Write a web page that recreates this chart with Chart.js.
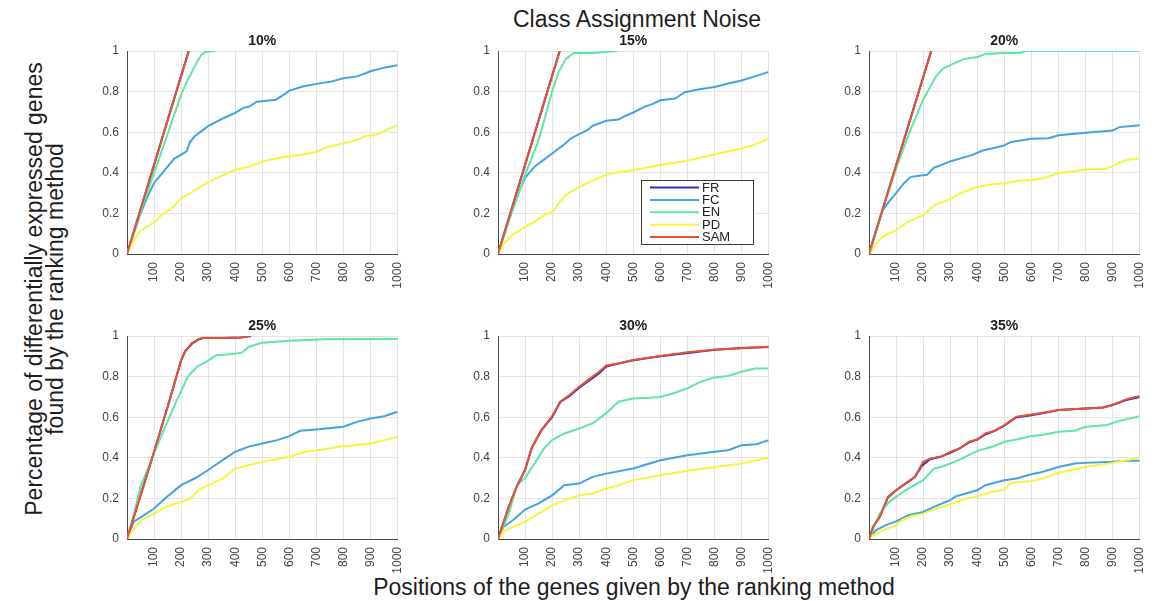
<!DOCTYPE html>
<html>
<head>
<meta charset="utf-8">
<script src="https://cdn.jsdelivr.net/npm/chart.js@4.4.1/dist/chart.umd.min.js"></script>
<style>
  html, body { margin: 0; padding: 0; background: #fff; }
  #fig { position: relative; width: 1163px; height: 601px; overflow: hidden;
         font-family: 'Liberation Sans', Arial, Helvetica, sans-serif; color: #1e1e1e; }
  #fig canvas { position: absolute; }
  .lbl { position: absolute; white-space: nowrap; font-size: 23px; line-height: 23px; }
  #suptitle { left: 637px; top: 8px; transform: translateX(-50%); }
  #xlab { left: 634px; top: 576px; transform: translateX(-50%); }
  #ylab { left: 45px; top: 289px; text-align: center; line-height: 21px;
          transform: translate(-50%, -50%) rotate(-90deg); }
</style>
</head>
<body>
<div id="fig">
  <div class="lbl" id="suptitle">Class Assignment Noise</div>
  <div class="lbl" id="ylab">Percentage of differentially expressed genes<br>found by the ranking method</div>
  <div class="lbl" id="xlab">Positions of the genes given by the ranking method</div>
</div>
<script>
// Axis ticks
const xTickValues = [100, 200, 300, 400, 500, 600, 700, 800, 900, 1000];
const yTickValues = [0, 0.2, 0.4, 0.6, 0.8, 1];
const yTickLabels = ['0', '0.2', '0.4', '0.6', '0.8', '1'];

// Ranking methods
const methods = ['FR', 'FC', 'EN', 'PD', 'SAM'];
const noiseLevels = ['10%', '15%', '20%', '25%', '30%', '35%'];

// Fraction of DE genes found vs. rank position: [rank, fraction]
// 10 % noise
const FR10  = [[0,0],[228,1]];
const FC10  = [[0,0],[25,0.1],[50,0.2],[75,0.28],[100,0.35],[125,0.39],[150,0.43],[175,0.47],[200,0.49],[220,0.505],[232,0.55],[250,0.58],[300,0.63],[350,0.665],[400,0.695],[430,0.72],[450,0.725],[480,0.75],[550,0.76],[580,0.785],[600,0.805],[650,0.825],[700,0.838],[750,0.848],[800,0.866],[850,0.875],[900,0.9],[950,0.918],[1000,0.93]];
const EN10  = [[0,0],[50,0.21],[100,0.4],[150,0.59],[200,0.785],[225,0.86],[245,0.91],[260,0.95],[275,0.98],[290,0.995],[327,1]];
const PD10  = [[0,0],[25,0.07],[50,0.115],[75,0.135],[100,0.155],[130,0.195],[170,0.23],[195,0.27],[240,0.305],[300,0.355],[350,0.385],[400,0.415],[450,0.43],[500,0.455],[550,0.47],[600,0.482],[650,0.49],[700,0.503],[735,0.525],[800,0.545],[845,0.56],[880,0.58],[925,0.59],[960,0.61],[1000,0.635]];
const SAM10 = [[0,0],[228,1]];

// 15 % noise
const FR15  = [[0,0],[228,1]];
const FC15  = [[0,0],[25,0.11],[50,0.21],[75,0.3],[100,0.375],[135,0.43],[170,0.465],[200,0.495],[240,0.535],[270,0.57],[300,0.59],[330,0.61],[350,0.632],[400,0.656],[445,0.662],[470,0.68],[500,0.697],[540,0.725],[570,0.738],[600,0.757],[655,0.766],[690,0.797],[740,0.81],[800,0.823],[850,0.84],[900,0.855],[950,0.875],[1000,0.897]];
const EN15  = [[0,0],[50,0.2],[100,0.39],[150,0.56],[200,0.8],[225,0.9],[250,0.96],[280,0.99],[350,0.99],[400,0.995],[440,1]];
const PD15  = [[0,0],[20,0.05],[50,0.09],[100,0.135],[135,0.16],[170,0.19],[200,0.205],[230,0.26],[255,0.295],[300,0.33],[350,0.362],[400,0.39],[445,0.404],[500,0.413],[550,0.425],[600,0.438],[650,0.45],[700,0.46],[750,0.475],[800,0.49],[850,0.505],[900,0.52],[950,0.54],[1000,0.569]];
const SAM15 = [[0,0],[228,1]];

// 20 % noise
const FR20  = [[0,0],[230,1]];
const FC20  = [[0,0],[25,0.11],[50,0.215],[75,0.26],[100,0.3],[130,0.35],[155,0.38],[200,0.388],[215,0.39],[240,0.425],[270,0.44],[300,0.456],[335,0.47],[380,0.487],[420,0.51],[470,0.525],[500,0.535],[525,0.552],[600,0.568],[665,0.57],[700,0.585],[800,0.597],[900,0.608],[925,0.625],[1000,0.634]];
const EN20  = [[0,0],[50,0.22],[100,0.42],[150,0.6],[200,0.76],[225,0.82],[250,0.88],[275,0.915],[300,0.93],[350,0.96],[400,0.97],[430,0.985],[500,0.99],[560,0.99],[580,1],[1000,1]];
const PD20  = [[0,0],[25,0.05],[50,0.085],[100,0.118],[145,0.16],[200,0.19],[240,0.24],[300,0.27],[335,0.298],[400,0.33],[455,0.344],[500,0.348],[545,0.36],[600,0.364],[640,0.372],[700,0.398],[800,0.416],[880,0.421],[925,0.45],[960,0.465],[1000,0.47]];
const SAM20 = [[0,0],[230,1]];

// 25 % noise
const FR25  = [[0,0],[50,0.215],[100,0.43],[150,0.65],[200,0.88],[215,0.925],[240,0.962],[265,0.983],[280,0.99],[350,0.99],[420,0.993],[458,1]];
const FC25  = [[0,0],[25,0.085],[55,0.11],[100,0.15],[140,0.2],[200,0.265],[250,0.298],[300,0.34],[355,0.39],[400,0.43],[450,0.455],[500,0.47],[555,0.487],[600,0.507],[640,0.533],[700,0.54],[800,0.553],[850,0.577],[900,0.594],[950,0.605],[1000,0.627]];
const EN25  = [[0,0],[25,0.12],[50,0.26],[95,0.405],[140,0.55],[190,0.7],[225,0.8],[260,0.85],[295,0.875],[330,0.905],[380,0.91],[425,0.918],[450,0.947],[500,0.967],[600,0.977],[730,0.984],[1000,0.985]];
const PD25  = [[0,0],[25,0.05],[50,0.09],[100,0.125],[140,0.155],[200,0.183],[235,0.2],[270,0.248],[300,0.265],[355,0.298],[400,0.347],[450,0.363],[500,0.38],[600,0.405],[660,0.43],[700,0.437],[800,0.457],[900,0.47],[950,0.487],[1000,0.503]];
const SAM25 = [[0,0],[50,0.215],[100,0.43],[150,0.65],[200,0.88],[215,0.925],[240,0.965],[265,0.985],[280,0.99],[350,0.99],[420,0.993],[455,1]];

// 30 % noise
const FR30  = [[0,0],[40,0.16],[70,0.26],[100,0.34],[125,0.45],[160,0.535],[200,0.6],[230,0.675],[265,0.705],[300,0.745],[340,0.783],[375,0.818],[400,0.85],[445,0.865],[500,0.88],[600,0.9],[710,0.918],[800,0.932],[900,0.941],[1000,0.946]];
const FC30  = [[0,0],[20,0.06],[55,0.092],[100,0.145],[150,0.175],[200,0.215],[245,0.265],[300,0.273],[350,0.306],[400,0.322],[500,0.347],[560,0.372],[600,0.388],[700,0.413],[800,0.43],[850,0.437],[900,0.462],[955,0.467],[1000,0.487]];
const EN30  = [[0,0],[40,0.125],[70,0.265],[100,0.3],[135,0.372],[170,0.446],[200,0.487],[245,0.52],[300,0.544],[350,0.57],[400,0.62],[445,0.676],[500,0.692],[560,0.696],[600,0.7],[645,0.717],[700,0.742],[750,0.775],[800,0.796],[850,0.803],[900,0.824],[950,0.84],[1000,0.84]];
const PD30  = [[0,0],[20,0.035],[55,0.06],[100,0.085],[150,0.125],[200,0.166],[245,0.19],[300,0.215],[350,0.224],[400,0.248],[445,0.265],[500,0.29],[600,0.314],[700,0.336],[800,0.355],[900,0.372],[955,0.388],[1000,0.401]];
const SAM30 = [[0,0],[40,0.16],[70,0.26],[100,0.34],[125,0.45],[160,0.535],[200,0.605],[230,0.675],[265,0.71],[300,0.75],[340,0.79],[375,0.825],[400,0.855],[445,0.865],[500,0.882],[600,0.901],[700,0.92],[800,0.932],[900,0.94],[1000,0.947]];

// 35 % noise
const FR35  = [[0,0],[15,0.06],[40,0.11],[70,0.205],[100,0.24],[135,0.273],[170,0.306],[195,0.36],[225,0.393],[265,0.405],[300,0.424],[335,0.446],[370,0.476],[400,0.49],[430,0.515],[465,0.533],[500,0.558],[545,0.6],[600,0.61],[665,0.625],[700,0.635],[800,0.643],[865,0.648],[900,0.66],[950,0.685],[1000,0.7]];
const FC35  = [[0,0],[25,0.043],[60,0.067],[100,0.087],[145,0.117],[200,0.133],[240,0.158],[300,0.191],[320,0.21],[400,0.24],[430,0.265],[500,0.289],[545,0.298],[600,0.319],[640,0.33],[700,0.355],[760,0.372],[800,0.375],[900,0.38],[950,0.385],[1000,0.385]];
const EN35  = [[0,0],[40,0.125],[75,0.183],[135,0.24],[200,0.29],[240,0.347],[265,0.355],[300,0.372],[335,0.391],[380,0.421],[400,0.434],[455,0.454],[500,0.479],[545,0.49],[600,0.507],[640,0.512],[700,0.528],[760,0.533],[800,0.553],[880,0.562],[925,0.582],[1000,0.605]];
const PD35  = [[0,0],[15,0.018],[50,0.043],[100,0.067],[120,0.092],[155,0.112],[200,0.125],[250,0.15],[300,0.171],[360,0.199],[400,0.21],[455,0.232],[500,0.243],[525,0.276],[600,0.286],[640,0.298],[700,0.326],[800,0.355],[900,0.375],[950,0.388],[1000,0.401]];
const SAM35 = [[0,0],[15,0.06],[40,0.11],[70,0.207],[100,0.24],[135,0.273],[170,0.306],[200,0.38],[225,0.396],[265,0.405],[300,0.429],[335,0.446],[370,0.479],[400,0.49],[430,0.52],[465,0.533],[500,0.561],[545,0.602],[600,0.613],[665,0.627],[700,0.635],[800,0.643],[865,0.648],[900,0.66],[950,0.688],[1000,0.704]];

const seriesByPanel = [
  [FR10, FC10, EN10, PD10, SAM10],
  [FR15, FC15, EN15, PD15, SAM15],
  [FR20, FC20, EN20, PD20, SAM20],
  [FR25, FC25, EN25, PD25, SAM25],
  [FR30, FC30, EN30, PD30, SAM30],
  [FR35, FC35, EN35, PD35, SAM35]
];

// Styling and layout
const methodColors = ['#2b2bbd', '#40a4e2', '#5ee6a3', '#f6f53e', '#e8512f'];
const methodDrawOrder = [5, 4, 3, 2, 1]; // SAM on top, FR just beneath it
const plotOrigins = [[127, 51], [498, 51], [869, 51], [127, 336], [498, 336], [869, 336]];
const PLOT_W = 281, PLOT_H = 203;
const AXIS_Y_W = 45, AXIS_X_H = 45, TITLE_H = 30, PAD_R = 12;

Chart.defaults.font.family = "'Liberation Sans', Arial, Helvetica, sans-serif";

// Boxed legend drawn inside the plot area (lower right)
const boxLegend = {
  id: 'boxLegend',
  afterDatasetsDraw(chart, args, opts) {
    if (!opts.show) return;
    const { ctx, chartArea } = chart;
    const w = 112, h = 64;
    const x = Math.round(chartArea.right - 16 - w);
    const y = Math.round(chartArea.bottom - 10 - h);
    ctx.save();
    ctx.fillStyle = '#ffffff';
    ctx.fillRect(x, y, w, h);
    ctx.strokeStyle = '#3c3c3c';
    ctx.lineWidth = 1;
    ctx.strokeRect(x + 0.5, y + 0.5, w, h);
    ctx.font = "13px 'Liberation Sans', Arial, sans-serif";
    ctx.textBaseline = 'middle';
    ctx.textAlign = 'left';
    chart.data.datasets.forEach((ds, i) => {
      const ry = y + 7.5 + i * 12.4;
      ctx.strokeStyle = ds.borderColor;
      ctx.lineWidth = 2;
      ctx.beginPath();
      ctx.moveTo(x + 9, ry);
      ctx.lineTo(x + 58, ry);
      ctx.stroke();
      ctx.fillStyle = '#222';
      ctx.fillText(ds.label, x + 61, ry + 0.5);
    });
    ctx.restore();
  }
};

const fig = document.getElementById('fig');

seriesByPanel.forEach((series, p) => {
  const [plotLeft, plotTop] = plotOrigins[p];
  const canvas = document.createElement('canvas');
  const cw = AXIS_Y_W + PLOT_W + PAD_R;
  const ch = TITLE_H + PLOT_H + AXIS_X_H;
  canvas.width = cw;
  canvas.height = ch;
  canvas.style.left = (plotLeft - AXIS_Y_W) + 'px';
  canvas.style.top = (plotTop - TITLE_H) + 'px';
  canvas.style.width = cw + 'px';
  canvas.style.height = ch + 'px';
  fig.appendChild(canvas);

  const gridOpts = { color: '#e3e3e3', lineWidth: 1, drawTicks: false };
  const borderOpts = { display: true, color: '#4a4a4a', width: 1 };

  new Chart(canvas, {
    type: 'line',
    data: {
      datasets: series.map((pts, i) => ({
        label: methods[i],
        data: pts.map(([x, y]) => ({ x, y })),
        borderColor: methodColors[i],
        backgroundColor: methodColors[i],
        borderWidth: 2,
        pointRadius: 0,
        tension: 0,
        fill: false,
        order: methodDrawOrder[i]
      }))
    },
    options: {
      responsive: false,
      maintainAspectRatio: false,
      animation: false,
      devicePixelRatio: 1,
      layout: { padding: { left: 0, top: 0, right: PAD_R, bottom: 0 } },
      plugins: {
        legend: { display: false },
        tooltip: { enabled: false },
        title: {
          display: true,
          text: noiseLevels[p],
          fullSize: false,
          color: '#1e1e1e',
          font: { size: 14, weight: 'bold' },
          padding: { top: 12, bottom: 1.2 }
        },
        boxLegend: { show: p === 1 }
      },
      scales: {
        x: {
          type: 'linear',
          min: 0,
          max: 1000,
          afterBuildTicks: s => { s.ticks = xTickValues.map(v => ({ value: v })); },
          afterFit: s => { s.height = AXIS_X_H; },
          ticks: {
            autoSkip: false, minRotation: 90, maxRotation: 90, padding: 8,
            color: '#444', font: { size: 12 },
            callback: v => String(v)
          },
          grid: gridOpts,
          border: borderOpts
        },
        y: {
          type: 'linear',
          min: 0,
          max: 1,
          afterBuildTicks: s => { s.ticks = yTickValues.map(v => ({ value: v })); },
          afterFit: s => { s.width = AXIS_Y_W; },
          ticks: {
            padding: 8, color: '#444', font: { size: 12 },
            callback: v => yTickLabels[yTickValues.indexOf(v)]
          },
          grid: gridOpts,
          border: borderOpts
        }
      }
    },
    plugins: [boxLegend]
  });
});
</script>
</body>
</html>
